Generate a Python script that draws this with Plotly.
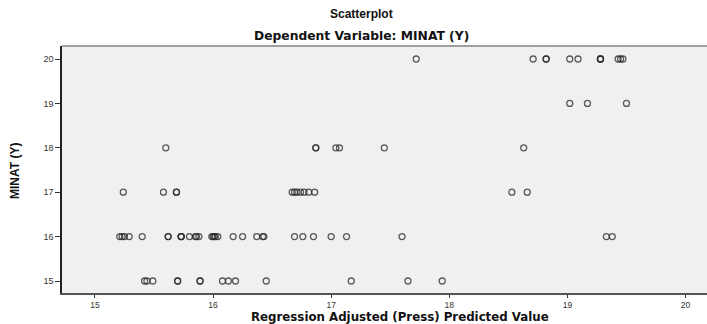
import plotly.graph_objects as go

# Regression Adjusted (Press) Predicted Value, grouped by MINAT (Y)
pred_20 = [17.72, 18.71, 18.82, 18.82, 19.02, 19.09, 19.28, 19.28, 19.28, 19.43, 19.45, 19.47]
pred_19 = [19.02, 19.17, 19.50]
pred_18 = [15.60, 16.87, 16.87, 17.04, 17.07, 17.45, 18.63]
pred_17 = [15.24, 15.58, 15.69, 15.69, 16.67, 16.69, 16.71, 16.74, 16.77, 16.81, 16.86, 18.53, 18.66]
pred_16 = [15.21, 15.23, 15.25, 15.29, 15.40, 15.62, 15.62, 15.73, 15.73, 15.73, 15.80, 15.85,
           15.86, 15.88, 15.99, 16.00, 16.01, 16.02, 16.04, 16.17, 16.25, 16.37, 16.42, 16.43,
           16.69, 16.76, 16.85, 17.00, 17.13, 17.60, 19.33, 19.38]
pred_15 = [15.42, 15.44, 15.49, 15.70, 15.70, 15.89, 15.89, 16.08, 16.13, 16.19, 16.45,
           17.17, 17.65, 17.94]
groups = {20: pred_20, 19: pred_19, 18: pred_18, 17: pred_17, 16: pred_16, 15: pred_15}

x_ticks = [15, 16, 17, 18, 19, 20]
y_ticks = [15, 16, 17, 18, 19, 20]

xs, ys = [], []
for yv, vals in groups.items():
    for v in vals:
        xs.append(v)
        ys.append(yv)

fig = go.Figure()
fig.add_trace(go.Scatter(
    x=xs, y=ys, mode="markers",
    marker=dict(symbol="circle-open", size=6,
                color="rgba(40,40,40,0.75)", line=dict(width=1.3)),
    showlegend=False, hoverinfo="x+y"))

fig.update_layout(
    width=707, height=324,
    margin=dict(l=62, r=0, t=46, b=31),
    paper_bgcolor="white", plot_bgcolor="#f0f0f0",
    font=dict(family="Liberation Sans, Arial, sans-serif", color="#222"),
    xaxis=dict(range=[14.721, 20.182], tickvals=x_ticks, showgrid=False, zeroline=False,
               ticks="outside", ticklen=3, tickcolor="#333", tickwidth=1,
               showline=True, linecolor="#555", linewidth=1.5,
               tickfont=dict(size=8.5, color="#333")),
    yaxis=dict(range=[14.73, 20.293], tickvals=y_ticks, showgrid=False, zeroline=False,
               ticks="outside", ticklen=5, tickcolor="#333", tickwidth=1,
               showline=True, linecolor="#222", linewidth=1.5,
               tickfont=dict(size=9, color="#333")),
    shapes=[dict(type="line", xref="paper", yref="paper", x0=0, x1=1, y0=1, y1=1,
                 line=dict(color="#a0a0a0", width=2))],
    annotations=[
        dict(text="<b>Scatterplot</b>", xref="paper", yref="paper", x=0.4636, y=1.1296,
             xanchor="center", yanchor="middle", showarrow=False, font=dict(size=12, color="#111")),
        dict(text="<b>Dependent Variable: MINAT (Y)</b>", xref="paper", yref="paper",
             x=0.4636, y=1.0405, xanchor="center", yanchor="middle", showarrow=False,
             font=dict(size=12.3, color="#111", family="DejaVu Sans, Verdana, sans-serif")),
        dict(text="<b>Regression Adjusted (Press) Predicted Value</b>", xref="paper", yref="paper",
             x=0.524, y=-0.097, xanchor="center", yanchor="middle", showarrow=False,
             font=dict(size=11.8, color="#111", family="DejaVu Sans, Verdana, sans-serif")),
        dict(text="<b>MINAT (Y)</b>", xref="paper", yref="paper", x=-0.0729, y=0.494,
             xanchor="center", yanchor="middle", showarrow=False, textangle=-90,
             font=dict(size=12, color="#111",
                       family="Liberation Sans Narrow, Arial Narrow, Liberation Sans, sans-serif")),
    ],
)

fig.write_html("out.html", config={"displayModeBar": False},
               post_script="document.body.style.margin='0';document.body.style.overflow='hidden';")
